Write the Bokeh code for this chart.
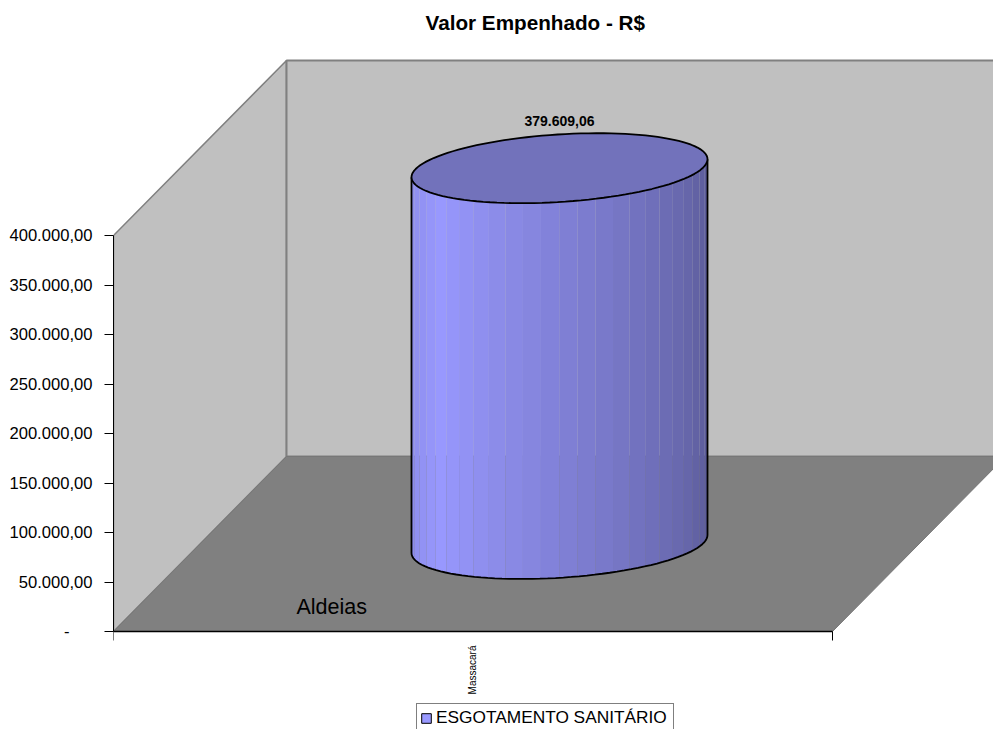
import numpy as np
from bokeh.plotting import figure
from bokeh.embed import file_html
from bokeh.resources import INLINE
from bokeh.models import Range1d, FixedTicker, Label, Legend, LegendItem

categories = ["Massacará"]
series_name = "ESGOTAMENTO SANITÁRIO"
values = [379609.06]
value_labels = ["379.609,06"]
y_ticks = [0, 50000, 100000, 150000, 200000, 250000, 300000, 350000, 400000]
y_tick_labels = ["-\u00a0\u00a0\u00a0\u00a0\u00a0", "50.000,00", "100.000,00", "150.000,00", "200.000,00",
                 "250.000,00", "300.000,00", "350.000,00", "400.000,00"]
chart_title = "Valor Empenhado - R$"
axis_name = "Aldeias"

# layout in pixels
W, H = 993, 729
F_L, F_R, F_B = 113, 993, 631
PX_X = 719.0              # pixels per category slot
PX_Y = 396.0 / 400000.0   # pixels per unit of value
DX = 173 / PX_X           # depth of the 3D box, data units
DY = 175 / PX_Y
YMAX = 400000.0

# the frame fills the page top to bottom, so title and legend sit in it; y = 0 stays at F_B
p = figure(width=W, height=H, output_backend="svg", toolbar_location=None,
           x_range=Range1d(0, (F_R - F_L) / PX_X), y_range=Range1d(-(H - F_B) / PX_Y, F_B / PX_Y),
           min_border_left=F_L, min_border_right=W - F_R, min_border_top=0, min_border_bottom=0,
           background_fill_color="white", outline_line_color=None)
p.grid.visible = False

p.add_layout(Label(x=(425 - F_L) / PX_X, y=(F_B - 22) / PX_Y, text=chart_title, text_align="left",
                   text_baseline="middle", text_font="Liberation Sans", text_font_style="bold",
                   text_font_size="20.7px", text_color="#000000"))

# cylinder geometry
cx = 0.5 + DX / 2
cy0 = DY / 2
cy1 = cy0 + values[0]
A = 148 / PX_X
K1 = 9 / PX_Y
K2 = 33.8 / PX_Y

# bar extent, underneath the walls: gives the legend its swatch
swatch = p.quad(left=[cx - A], right=[cx + A], bottom=[cy0], top=[cy1], fill_color="#9999FF", line_color="#000000")

WALL = "#C0C0C0"
EDGE = "#808080"
p.patch([0, 0, DX, DX], [0, YMAX, YMAX + DY, DY], fill_color=WALL, line_color=EDGE, line_width=1.5)
p.patch([DX, DX, 1 + DX, 1 + DX], [DY, YMAX + DY, YMAX + DY, DY], fill_color=WALL, line_color=EDGE, line_width=2)
p.patch([0, DX, 1 + DX, 1], [0, DY, DY, 0], fill_color="#808080", line_color="#777777", line_width=1)


def ell(t, cy):
    return cx + A * np.cos(t), cy + K1 * np.cos(t) - K2 * np.sin(t)


# facet edges, in degrees from the left silhouette
edges = np.r_[0.0, 4.7 + 7.1 * np.arange(25), 180.0]
for a0, a1 in zip(edges[:-1], edges[1:]):
    ts = np.radians(180 - np.array([a0, (a0 + a1) / 2, a1]))
    xt, yt = ell(ts, cy1)
    xb, yb = ell(ts[::-1], cy0)
    ang = (a0 + a1) / 2
    if ang < 37:
        f = 0.9 + 0.1 * ang / 37
    else:
        f = 1.0 - 0.42 * (ang - 37) / 143
    col = "#%02x%02x%02x" % (int(153 * f), int(153 * f), int(255 * f))
    p.patch(np.r_[xt, xb], np.r_[yt, yb], fill_color=col, line_color=None)

ta = np.linspace(0, np.pi, 60)
xb, yb = ell(ta, cy0)
xr, yr = ell(np.array([0.0]), cy1)
xl, yl = ell(np.array([np.pi]), cy1)
p.line(np.r_[xr, xb, xl], np.r_[yr, yb, yl], line_color="#000000", line_width=1.8)

tf = np.linspace(0, 2 * np.pi, 120)
xt, yt = ell(tf, cy1)
p.patch(xt, yt, fill_color="#7272BB", line_color="#000000", line_width=1.8)

p.add_layout(Label(x=cx, y=cy1 + 47 / PX_Y, text=value_labels[0], text_align="center",
                   text_baseline="middle", text_font="Liberation Sans", text_font_style="bold",
                   text_font_size="14px", text_color="#000000"))
p.add_layout(Label(x=(296 - F_L) / PX_X, y=(F_B - 606) / PX_Y, text=axis_name, text_align="left",
                   text_baseline="middle", text_font="Liberation Sans", text_font_size="21.5px",
                   text_color="#000000"))

# axes
ya = p.yaxis[0]
ya.ticker = FixedTicker(ticks=y_ticks)
ya.major_label_overrides = dict(zip(y_ticks, y_tick_labels))
ya.bounds = (0, YMAX)
ya.major_tick_in = 0
ya.major_tick_out = 9
ya.minor_tick_line_color = None
ya.major_label_standoff = 12
ya.major_label_text_font = "Liberation Sans"
ya.major_label_text_font_size = "16.6px"
ya.major_label_text_color = "#000000"
ya.axis_line_color = "#000000"
ya.major_tick_line_color = "#000000"

cat_pos = 0.5 - 1 / PX_X
xa = p.xaxis[0]
xa.fixed_location = 0
xa.ticker = FixedTicker(ticks=[cat_pos], minor_ticks=[0, 1])
xa.major_label_overrides = {cat_pos: categories[0]}
xa.bounds = (0, 1)
xa.major_tick_in = 0
xa.major_tick_out = 0
xa.minor_tick_in = 0
xa.minor_tick_out = 9
xa.minor_tick_line_color = "#000000"
xa.major_label_orientation = np.pi / 2
xa.major_label_standoff = 5
xa.major_label_text_font = "Liberation Sans"
xa.major_label_text_font_size = "10px"
xa.major_label_text_color = "#000000"
xa.axis_line_color = "#000000"
xa.axis_line_width = 1.5

legend = Legend(items=[LegendItem(label=series_name, renderers=[swatch])],
                location=(303, -3), orientation="horizontal", padding=3, margin=0, spacing=0,
                glyph_width=12, glyph_height=12, label_standoff=4, label_height=18, label_width=234,
                label_text_font="Liberation Sans", label_text_font_size="17.3px", label_text_color="#000000",
                border_line_color="#000000", border_line_width=1, background_fill_color="white",
                background_fill_alpha=1.0)
p.add_layout(legend, "center")

open("out.html", "w").write(file_html(p, INLINE))
